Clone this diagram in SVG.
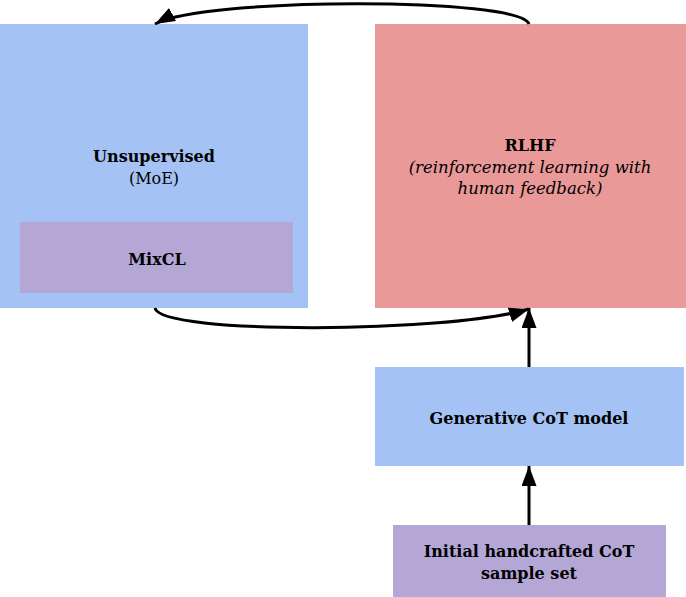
<svg xmlns="http://www.w3.org/2000/svg" width="686" height="597" viewBox="0 0 686 597">
<defs>
<style>
.t{font-family:"DejaVu Serif","Liberation Serif",serif;font-size:16px;fill:#000;text-anchor:middle}
.b{font-weight:bold}
.i{font-style:italic;font-size:16.5px}
.c{fill:none;stroke:#000;stroke-width:3}
</style>
<marker id="ah" markerUnits="userSpaceOnUse" markerWidth="22" markerHeight="16" refX="20" refY="7.5" orient="auto">
<path d="M0,0 L20,7.5 L0,15 z" fill="#000"/>
</marker>
</defs>
<rect width="686" height="597" fill="#fff"/>
<g id="unsupervised">
<rect x="0" y="24" width="308" height="284" fill="#a4c2f4"/>
<text class="t b" x="154" y="162">Unsupervised</text>
<text class="t" x="154" y="184" fill="#222">(MoE)</text>
</g>
<g id="mixcl">
<rect x="20" y="222" width="273" height="71" fill="#b4a7d6"/>
<text class="t b" x="157" y="265">MixCL</text>
</g>
<g id="rlhf">
<rect x="375" y="24" width="311" height="284" fill="#ea9999"/>
<text class="t b" x="530" y="151">RLHF</text>
<text class="t i" x="530" y="173">(reinforcement learning with</text>
<text class="t i" x="530" y="194">human feedback)</text>
</g>
<g id="generative">
<rect x="375" y="367" width="309" height="99" fill="#a4c2f4"/>
<text class="t b" x="529" y="424">Generative CoT model</text>
</g>
<g id="initial">
<rect x="393" y="525" width="273" height="72" fill="#b4a7d6"/>
<text class="t b" x="529" y="557">Initial handcrafted CoT</text>
<text class="t b" x="529" y="579">sample set</text>
</g>
<g id="connectors">
<path class="c" d="M529,24 C520,-3 205,-3 155,24" marker-end="url(#ah)"/>
<path class="c" d="M155,308 C160,335 450,333 529,309" marker-end="url(#ah)"/>
<path class="c" d="M529,367 L529,308" marker-end="url(#ah)"/>
<path class="c" d="M529,525 L529,466" marker-end="url(#ah)"/>
</g>
</svg>
